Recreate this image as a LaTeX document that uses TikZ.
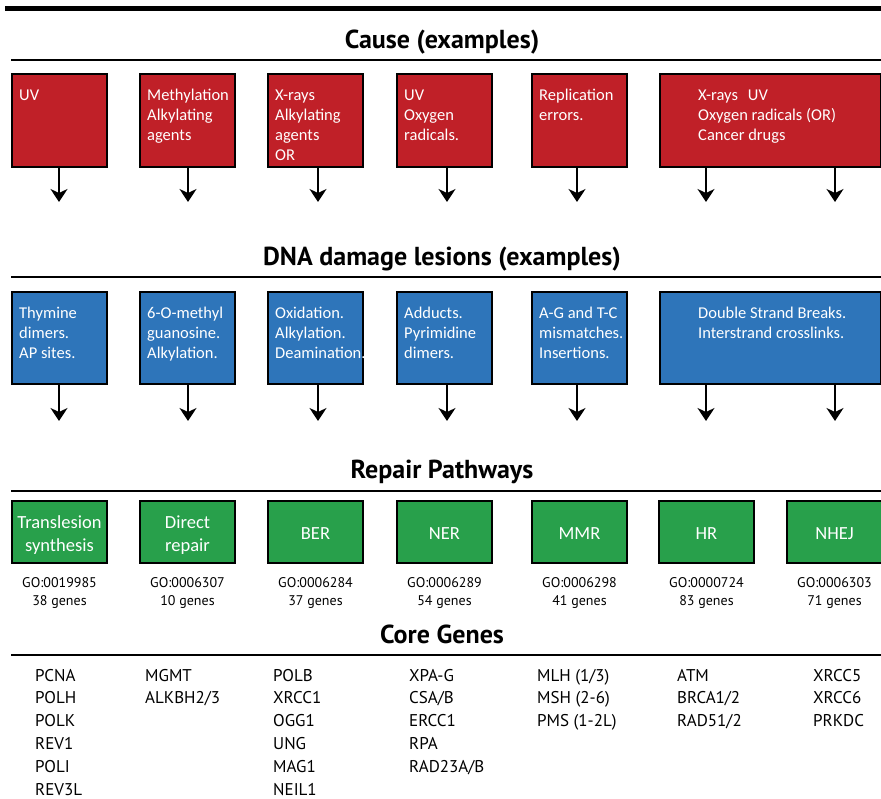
\documentclass[tikz,border=0pt]{standalone}
\usepackage{fontspec}
\setmainfont{PT Sans}
\newfontfamily\calibrifont{Carlito}
\usetikzlibrary{arrows.meta,% Stealth tips on the down arrows
positioning,%               places the arrow tips below the boxes
calc}
\definecolor{causered}{RGB}{192,32,40}
\definecolor{lesionblue}{RGB}{46,117,186}
\definecolor{pathgreen}{RGB}{40,160,75}
\newcommand{\boxlines}[1]{\begin{tabular}[t]{@{}l@{}}#1\end{tabular}}
\newcommand{\golines}[1]{\begin{tabular}[t]{@{}c@{}}#1\end{tabular}}
\tikzset{every node/.style={inner sep=0pt},
  colbox/.style={draw=black,line width=2pt,anchor=north west,minimum width=95pt},
  causebox/.style={colbox,fill=causered,minimum height=93pt},
  lesionbox/.style={colbox,fill=lesionblue,minimum height=92pt},
  pathbox/.style={colbox,fill=pathgreen,minimum height=62pt},
  boxtext/.style={anchor=base west,text=white,font=\calibrifont\fontsize{16.5}{20}\selectfont},
  pathtext/.style={text=white,font=\calibrifont\fontsize{18.5}{23}\selectfont},
  golabel/.style={anchor=base,font=\fontsize{14}{18}\selectfont},
  genelist/.style={anchor=base west,font=\fontsize{17}{22.8}\selectfont},
  heading/.style={anchor=base,font=\bfseries\fontsize{26}{30}\selectfont},
  headrule/.style={line width=1.6pt},
  downarrow/.style={line width=1.8pt,-{Stealth[length=13pt,width=17pt,inset=4pt]}}}

\begin{document}
\begin{tikzpicture}[x=1pt,y=-1pt]
\useasboundingbox (0,0) rectangle (881,798);
\draw[line width=5pt] (5,8.5) -- (884,8.5);

% Cause row
\node[heading] (causetitle) at (442,48) {Cause (examples)};
\draw[headrule] (11,60) -- (884,60);
\node[causebox] (cause1) at (11,73) {};
\node[causebox] (cause2) at (139,73) {};
\node[causebox] (cause3) at (267,73) {};
\node[causebox] (cause4) at (396,73) {};
\node[causebox] (cause5) at (531,73) {};
\node[causebox,minimum width=221pt] (cause6) at (659,73) {};
\node[boxtext] (causetxt1) at ($(cause1.north west)+(8,27.7)$) {\boxlines{UV}};
\node[boxtext] (causetxt2) at ($(cause2.north west)+(8,27.7)$) {\boxlines{Methylation\\Alkylating\\agents}};
\node[boxtext] (causetxt3) at ($(cause3.north west)+(8,27.7)$) {\boxlines{X-rays\\Alkylating\\agents\\OR}};
\node[boxtext] (causetxt4) at ($(cause4.north west)+(8,27.7)$) {\boxlines{UV\\Oxygen\\radicals.}};
\node[boxtext] (causetxt5) at ($(cause5.north west)+(8,27.7)$) {\boxlines{Replication\\errors.}};
\node[boxtext] (causetxt6) at ($(cause6.north west)+(39,27.7)$) {\boxlines{X-rays\hspace{10pt}UV\\Oxygen radicals (OR)\\Cancer drugs}};
\foreach \i/\dx in {1/-0.5,2/0.5,3/2.5,4/2.5,5/-2.5}{
  \coordinate (causetip\i) at ($(cause\i.south)+(\dx,34)$);
  \draw[downarrow] (causetip\i |- cause\i.south) -- (causetip\i);
}
\coordinate (causetip6a) at ($(cause6.south)+(-64.5,34)$);
\coordinate (causetip6b) at ($(cause6.south)+(64.5,34)$);
\draw[downarrow] (causetip6a |- cause6.south) -- (causetip6a);
\draw[downarrow] (causetip6b |- cause6.south) -- (causetip6b);

% Lesion row
\node[heading] (lesiontitle) at (442,265) {DNA damage lesions (examples)};
\draw[headrule] (11,277) -- (884,277);
\node[lesionbox] (lesion1) at (11,291) {};
\node[lesionbox] (lesion2) at (139,291) {};
\node[lesionbox] (lesion3) at (267,291) {};
\node[lesionbox] (lesion4) at (396,291) {};
\node[lesionbox] (lesion5) at (531,291) {};
\node[lesionbox,minimum width=221pt] (lesion6) at (659,291) {};
\node[boxtext] (lesiontxt1) at ($(lesion1.north west)+(8,27.5)$) {\boxlines{Thymine\\dimers.\\AP sites.}};
\node[boxtext] (lesiontxt2) at ($(lesion2.north west)+(8,27.5)$) {\boxlines{6-O-methyl\\guanosine.\\Alkylation.}};
\node[boxtext] (lesiontxt3) at ($(lesion3.north west)+(8,27.5)$) {\boxlines{Oxidation.\\Alkylation.\\Deamination.}};
\node[boxtext] (lesiontxt4) at ($(lesion4.north west)+(8,27.5)$) {\boxlines{Adducts.\\Pyrimidine\\dimers.}};
\node[boxtext] (lesiontxt5) at ($(lesion5.north west)+(8,27.5)$) {\boxlines{A-G and T-C\\mismatches.\\Insertions.}};
\node[boxtext] (lesiontxt6) at ($(lesion6.north west)+(39,27.5)$) {\boxlines{Double Strand Breaks.\\Interstrand crosslinks.}};
\foreach \i/\dx in {1/-0.5,2/0.5,3/2.5,4/2.5,5/-2.5}{
  \coordinate (lesiontip\i) at ($(lesion\i.south)+(\dx,36)$);
  \draw[downarrow] (lesiontip\i |- lesion\i.south) -- (lesiontip\i);
}
\coordinate (lesiontip6a) at ($(lesion6.south)+(-64.5,36)$);
\coordinate (lesiontip6b) at ($(lesion6.south)+(64.5,36)$);
\draw[downarrow] (lesiontip6a |- lesion6.south) -- (lesiontip6a);
\draw[downarrow] (lesiontip6b |- lesion6.south) -- (lesiontip6b);

% Repair pathways row
\node[heading] (pathtitle) at (442,478) {Repair Pathways};
\draw[headrule] (11,491) -- (884,491);
\node[pathbox] (path1) at (11,500) {};
\node[pathbox] (path2) at (139,500) {};
\node[pathbox] (path3) at (267,500) {};
\node[pathbox] (path4) at (396,500) {};
\node[pathbox] (path5) at (531,500) {};
\node[pathbox] (path6) at (658,500) {};
\node[pathbox] (path7) at (786,500) {};
\node[pathtext] (pathtxt1) at ($(path1.center)+(0,3)$) {\golines{Translesion\\synthesis}};
\node[pathtext] (pathtxt2) at ($(path2.center)+(0,3)$) {\golines{Direct\\repair}};
\node[pathtext] (pathtxt3) at ($(path3.center)+(0,3)$) {\golines{BER}};
\node[pathtext] (pathtxt4) at ($(path4.center)+(0,3)$) {\golines{NER}};
\node[pathtext] (pathtxt5) at ($(path5.center)+(0,3)$) {\golines{MMR}};
\node[pathtext] (pathtxt6) at ($(path6.center)+(0,3)$) {\golines{HR}};
\node[pathtext] (pathtxt7) at ($(path7.center)+(0,3)$) {\golines{NHEJ}};
\node[golabel] (go1) at ($(path1.south)+(0,23.5)$) {\golines{GO:0019985\\38 genes}};
\node[golabel] (go2) at ($(path2.south)+(0,23.5)$) {\golines{GO:0006307\\10 genes}};
\node[golabel] (go3) at ($(path3.south)+(0,23.5)$) {\golines{GO:0006284\\37 genes}};
\node[golabel] (go4) at ($(path4.south)+(0,23.5)$) {\golines{GO:0006289\\54 genes}};
\node[golabel] (go5) at ($(path5.south)+(0,23.5)$) {\golines{GO:0006298\\41 genes}};
\node[golabel] (go6) at ($(path6.south)+(0,23.5)$) {\golines{GO:0000724\\83 genes}};
\node[golabel] (go7) at ($(path7.south)+(0,23.5)$) {\golines{GO:0006303\\71 genes}};

% Core genes
\node[heading] (genetitle) at (442,643) {Core Genes};
\draw[headrule] (11,655) -- (884,655);
\node[genelist] (genes1) at (35,681) {\boxlines{PCNA\\POLH\\POLK\\REV1\\POLI\\REV3L}};
\node[genelist] (genes2) at (145,681) {\boxlines{MGMT\\ALKBH2/3}};
\node[genelist] (genes3) at (273,681) {\boxlines{POLB\\XRCC1\\OGG1\\UNG\\MAG1\\NEIL1}};
\node[genelist] (genes4) at (409,681) {\boxlines{XPA-G\\CSA/B\\ERCC1\\RPA\\RAD23A/B}};
\node[genelist] (genes5) at (537,681) {\boxlines{MLH (1/3)\\MSH (2-6)\\PMS (1-2L)}};
\node[genelist] (genes6) at (677,681) {\boxlines{ATM\\BRCA1/2\\RAD51/2}};
\node[genelist] (genes7) at (813,681) {\boxlines{XRCC5\\XRCC6\\PRKDC}};
\end{tikzpicture}
\end{document}
